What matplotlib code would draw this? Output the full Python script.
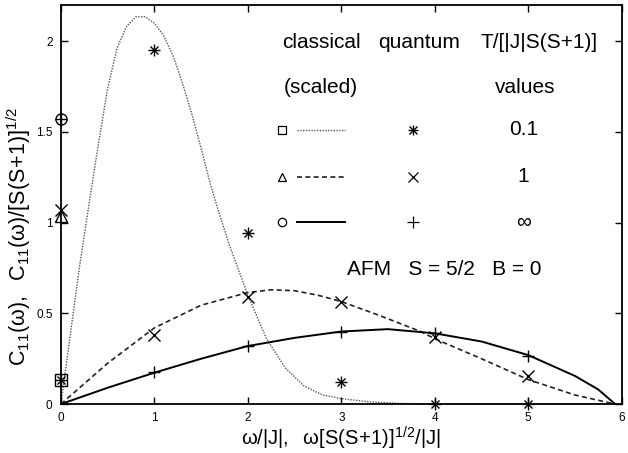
import matplotlib
matplotlib.use("Agg")
import matplotlib.pyplot as plt
from matplotlib.ticker import FormatStrFormatter

plt.rcParams["font.family"] = ["Liberation Sans", "DejaVu Sans"]
plt.rcParams["mathtext.fontset"] = "custom"
plt.rcParams["mathtext.rm"] = "Liberation Sans"
plt.rcParams["mathtext.it"] = "Liberation Sans"

# classical curves (scaled)
x_cl_01 = [0, 0.1, 0.2, 0.3, 0.4, 0.5, 0.6, 0.7, 0.8, 0.9, 1.0, 1.1, 1.2, 1.3,
           1.4, 1.5, 1.6, 1.7, 1.8, 1.9, 2.0, 2.2, 2.4, 2.6, 2.8, 3.0, 3.3,
           3.6, 4.0, 5.93]
y_cl_01 = [0, 0.38, 0.76, 1.10, 1.43, 1.74, 1.96, 2.08, 2.135, 2.135, 2.10,
           2.03, 1.92, 1.77, 1.60, 1.41, 1.21, 1.04, 0.88, 0.74, 0.60, 0.36,
           0.20, 0.10, 0.05, 0.03, 0.012, 0.004, 0, 0]

x_cl_1 = [0, 0.5, 1.0, 1.5, 2.0, 2.25, 2.5, 2.75, 3.0, 3.4, 3.85, 4.0, 4.5,
          5.0, 5.5, 5.93]
y_cl_1 = [0, 0.225, 0.42, 0.545, 0.615, 0.63, 0.625, 0.60, 0.565, 0.49, 0.40,
          0.36, 0.25, 0.135, 0.05, 0]

x_cl_inf = [0, 0.5, 1.0, 1.5, 2.0, 2.5, 3.0, 3.5, 4.0, 4.5, 5.0, 5.5, 5.75,
            5.93]
y_cl_inf = [0, 0.09, 0.173, 0.25, 0.32, 0.365, 0.40, 0.413, 0.39, 0.345,
            0.27, 0.155, 0.08, 0]

# classical delta weights at omega = 0
cl_zero = [0.135, 1.035, 1.57]

# quantum values
x_q = [0, 1, 2, 3, 4, 5]
q_01 = [0.13, 1.95, 0.945, 0.12, 0.0, 0.0]
q_1 = [1.07, 0.38, 0.59, 0.565, 0.37, 0.155]
q_inf = [1.57, 0.175, 0.318, 0.40, 0.39, 0.265]

temps = ["0.1", "1", "\u221e"]
cl_markers = ["s", "^", "o"]
cl_styles = [(0, (1, 1)), (0, (3, 2)), "-"]
cl_widths = [1.0, 1.2, 1.4]
cl_colors = ["#555555", "#222222", "black"]

fig = plt.figure(figsize=(6.28, 4.53), dpi=100)
ax = fig.add_axes([0.097, 0.108, 0.893, 0.881])

curves = [(x_cl_01, y_cl_01), (x_cl_1, y_cl_1), (x_cl_inf, y_cl_inf)]
for (xs, ys), ls, lw, c in zip(curves, cl_styles, cl_widths, cl_colors):
    ax.plot(xs, ys, linestyle=ls, lw=lw, color=c)

for m, yv in zip(cl_markers, cl_zero):
    ax.plot([0], [yv], marker=m, ms=8, mfc="none", mec="black", mew=1.0,
            ls="none", clip_on=False)


def star(axis, xs, ys, ms=8, **kw):
    axis.plot(xs, ys, marker="+", ms=ms, mew=1.0, color="black", ls="none",
              clip_on=False, **kw)
    axis.plot(xs, ys, marker="x", ms=ms * 0.8, mew=1.0, color="black",
              ls="none", clip_on=False, **kw)


star(ax, x_q, q_01)
ax.plot(x_q, q_1, marker="x", ms=8, mew=1.0, color="black", ls="none",
        clip_on=False)
ax.plot(x_q, q_inf, marker="+", ms=9, mew=1.0, color="black", ls="none",
        clip_on=False)

ax.set_xlim(0, 6)
ax.set_ylim(0, 2.2)
ax.set_xticks([0, 1, 2, 3, 4, 5, 6])
ax.set_yticks([0, 0.5, 1, 1.5, 2])
ax.yaxis.set_major_formatter(FormatStrFormatter("%g"))
ax.tick_params(direction="in", length=5, width=1.0, top=True, right=True,
               labelsize=8.5)
ax.tick_params(axis="x", pad=6)
ax.tick_params(axis="y", pad=6)
for s in ax.spines.values():
    s.set_linewidth(1.3)

ax.set_xlabel(r"$\mathregular{\omega/|J|,\ \ \omega[S(S\!+\!1)]^{1/2}/|J|}$",
              fontsize=14.5, labelpad=0)
ax.set_ylabel(r"$\mathregular{C_{11}(\omega),\ \ C_{11}(\omega)/[S(S\!+\!1)]^{1/2}}$",
              fontsize=15.5)
ax.yaxis.set_label_coords(-0.05, 0.42)

# legend table drawn in axes coordinates
tkw = dict(transform=ax.transAxes, ha="center", va="center", fontsize=15)
ax.text(0.465, 0.907, "classical", **tkw)
ax.text(0.638, 0.907, "quantum", **tkw)
ax.text(0.852, 0.907, "T/[|J|S(S+1)]", **tkw)
ax.text(0.463, 0.792, "(scaled)", **tkw)
ax.text(0.827, 0.792, "values", **tkw)

rows = [0.687, 0.569, 0.456]
for i, yr in enumerate(rows):
    ax.plot([0.394], [yr], marker=cl_markers[i], ms=6, mfc="none",
            mec="black", mew=0.9, transform=ax.transAxes)
    ax.plot([0.421, 0.506], [yr, yr], linestyle=cl_styles[i],
            lw=cl_widths[i], color=cl_colors[i], transform=ax.transAxes)
    ax.text(0.825, yr, temps[i], **tkw)
star(ax, [0.627], [rows[0]], ms=7, transform=ax.transAxes)
ax.plot([0.627], [rows[1]], marker="x", ms=7, mew=0.9, color="black",
        transform=ax.transAxes)
ax.plot([0.627], [rows[2]], marker="+", ms=8, mew=0.9, color="black",
        transform=ax.transAxes)

ax.text(0.683, 0.336, "AFM   S = 5/2   B = 0", **tkw)

fig.savefig("out.png", dpi=100)
